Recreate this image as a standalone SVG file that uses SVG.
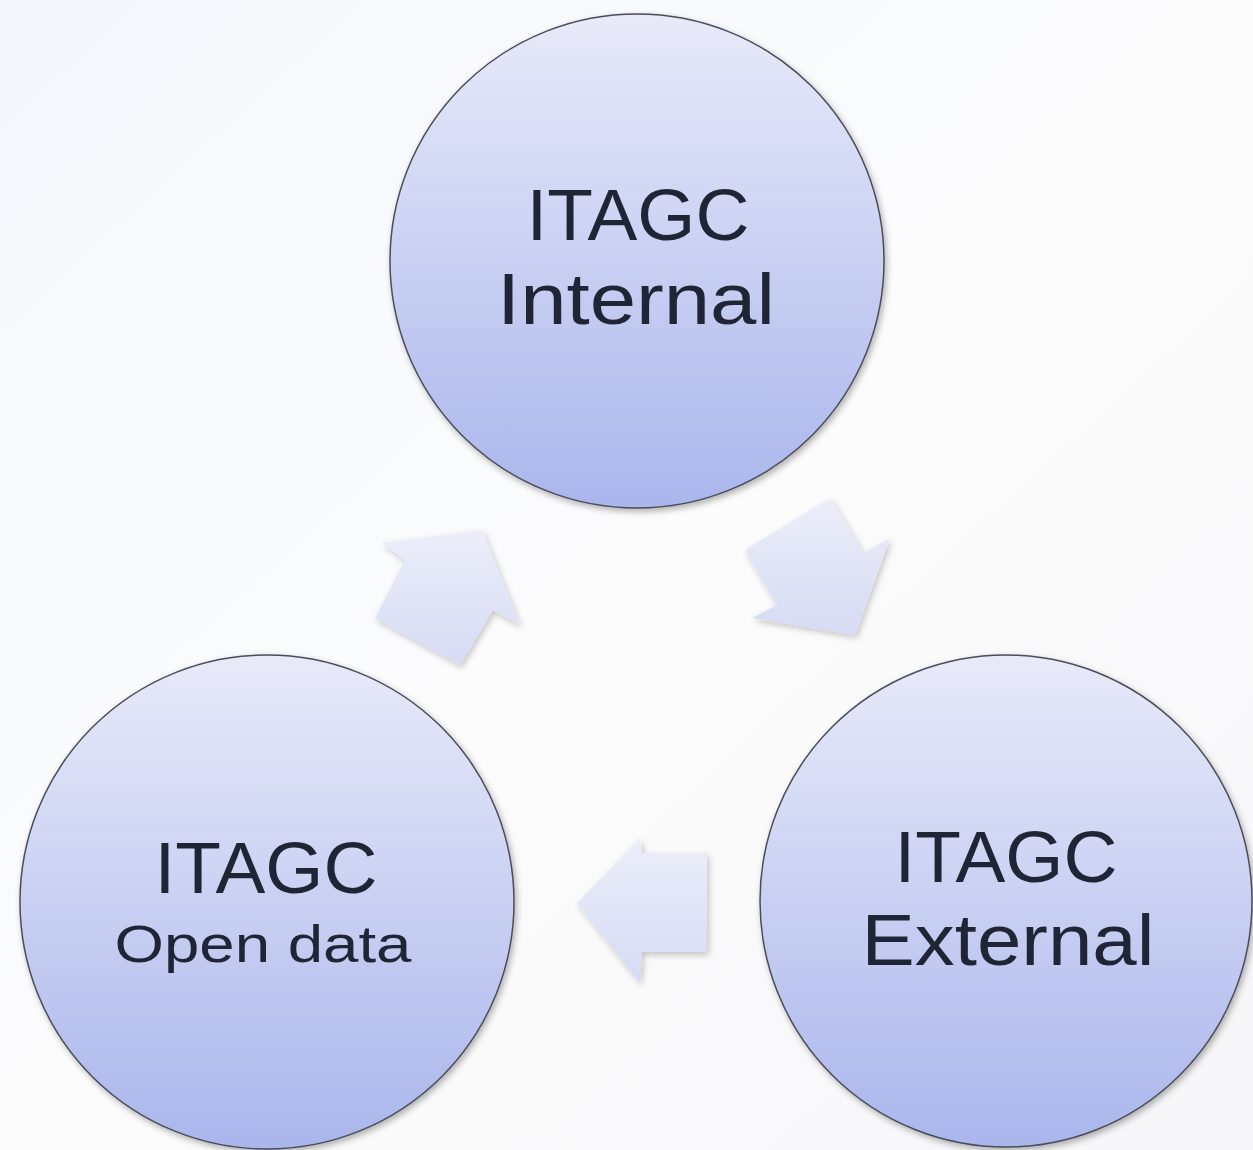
<svg xmlns="http://www.w3.org/2000/svg" width="1253" height="1150" viewBox="0 0 1253 1150">
  <defs>
    <linearGradient id="bg" x1="0" y1="0" x2="1" y2="1">
      <stop offset="0" stop-color="#f4f7fc"/>
      <stop offset="0.5" stop-color="#fcfcfd"/>
      <stop offset="1" stop-color="#f6f6f8"/>
    </linearGradient>
    <linearGradient id="circ" x1="0" y1="0" x2="0" y2="1">
      <stop offset="0" stop-color="#e8eaf9"/>
      <stop offset="1" stop-color="#aab6ec"/>
    </linearGradient>
    <linearGradient id="arr" x1="0" y1="0" x2="0" y2="1">
      <stop offset="0" stop-color="#eceef9"/>
      <stop offset="1" stop-color="#d6dbf4"/>
    </linearGradient>
    <filter id="sh" x="-10%" y="-10%" width="125%" height="125%">
      <feDropShadow dx="2" dy="3" stdDeviation="3" flood-color="#000" flood-opacity="0.3"/>
    </filter>
    <filter id="sha" x="-20%" y="-20%" width="145%" height="145%">
      <feDropShadow dx="2" dy="3" stdDeviation="3" flood-color="#000" flood-opacity="0.22"/>
    </filter>
  </defs>
  <style>
    .node circle { fill: url(#circ); stroke: #4a4d5a; stroke-width: 1.5; filter: url(#sh); }
    .node text { font-family: "Liberation Sans", Arial, sans-serif; fill: #1f2535; text-anchor: middle; }
    .big { font-size: 73px; }
    .small { font-size: 52px; }
    .arrow { fill: url(#arr); filter: url(#sha); }
  </style>
  <rect x="0" y="0" width="1253" height="1150" fill="url(#bg)"/>
  <g id="connectors">
    <polygon class="arrow" points="382,543 482,530 520,625 493,610 460,665 375,618 405,560"/>
    <polygon class="arrow" points="745,550 830,498 863,553 890,538 855,635 752,618 777,605"/>
    <polygon class="arrow" points="577,903 640,838 642,853 707,853 707,952 642,952 640,983"/>
  </g>
  <g id="node-internal" class="node">
    <circle cx="637" cy="261" r="247"/>
    <text class="big" x="638" y="240" textLength="223" lengthAdjust="spacingAndGlyphs">ITAGC</text>
    <text class="big" x="636" y="324" textLength="278" lengthAdjust="spacingAndGlyphs">Internal</text>
  </g>
  <g id="node-opendata" class="node">
    <circle cx="267" cy="902" r="247"/>
    <text class="big" x="266" y="893" textLength="223" lengthAdjust="spacingAndGlyphs">ITAGC</text>
    <text class="small" x="263" y="962" textLength="297" lengthAdjust="spacingAndGlyphs">Open data</text>
  </g>
  <g id="node-external" class="node">
    <circle cx="1006" cy="901" r="246"/>
    <text class="big" x="1006" y="882" textLength="223" lengthAdjust="spacingAndGlyphs">ITAGC</text>
    <text class="big" x="1008" y="965" textLength="293" lengthAdjust="spacingAndGlyphs">External</text>
  </g>
</svg>
